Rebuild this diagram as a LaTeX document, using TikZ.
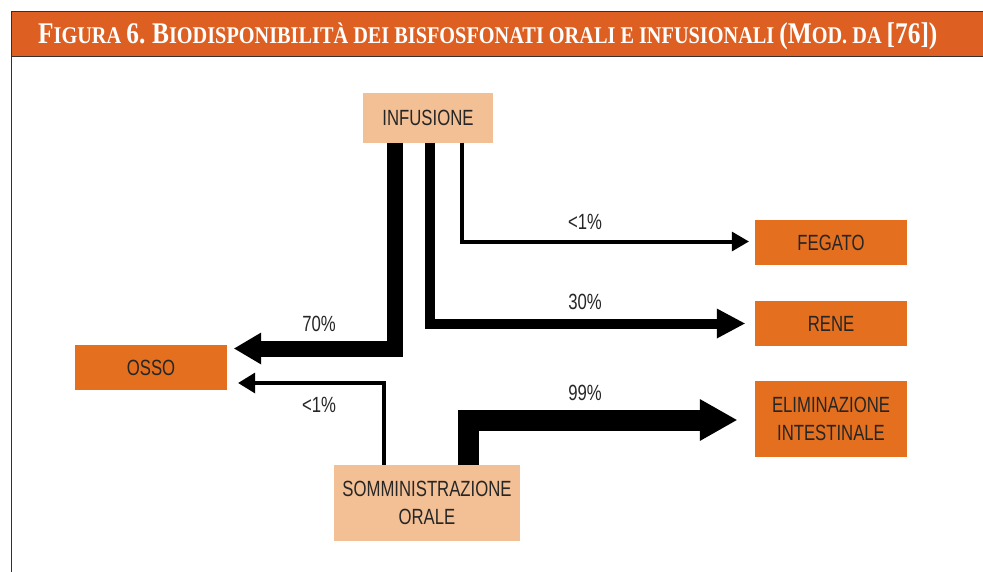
\documentclass[tikz,border=0pt]{standalone}
\usepackage{fontspec}
\setmainfont{Liberation Sans}[FakeStretch=0.76]
\newfontfamily\titlefont{Liberation Serif}[FakeStretch=0.845]
\usetikzlibrary{arrows.meta}
\definecolor{headorange}{HTML}{DD6022}
\definecolor{boxorange}{HTML}{E36F1F}
\definecolor{peach}{HTML}{F3BF94}
\definecolor{frameline}{HTML}{3A2E28}
\newcommand\capsc[2]{{\fontsize{30}{30}\selectfont #1}{\fontsize{24}{24}\selectfont #2}}

\begin{document}
\begin{tikzpicture}[x=1pt,y=-1pt,
  organ/.style={fill=boxorange,minimum width=152pt,minimum height=45pt,inner sep=0pt,
    align=center,font=\fontsize{22}{28}\selectfont,text=black!85},
  source/.style={organ,fill=peach},
  pct/.style={font=\fontsize{22}{28}\selectfont,text=black!85,inner sep=0pt},
  flow/.style n args={4}{line width=#1,-{Triangle[width=#2,length=#3,line width=0pt]},shorten >=#4}]
  \useasboundingbox (0,0) rectangle (983,571);
  \clip (0,0) rectangle (983,571);
  % cornice e testata
  \draw[frameline,line width=1.5pt,fill=headorange] (11.5,11.5) rectangle (1000,56.5);
  \draw[frameline,line width=1.5pt] (11.5,56.5) -- (11.5,590);
  \node[anchor=base west,inner sep=0pt,text=white,font=\titlefont\bfseries\fontsize{24}{24}\selectfont] (title) at (38,43)
    {\capsc{F}{IGURA} \capsc{6.}{} \capsc{B}{IODISPONIBILITÀ DEI BISFOSFONATI ORALI E INFUSIONALI} \capsc{(M}{OD. DA} \capsc{[76])}{}};
  % sorgenti
  \node[source,minimum width=130pt,minimum height=50pt] (inf) at (428,117.5) {INFUSIONE};
  \node[source,minimum width=186pt,minimum height=76pt] (somm) at (427,503) {SOMMINISTRAZIONE\\ORALE};
  % destinazioni
  \node[organ] (fegato) at (831,242.5) {FEGATO};
  \node[organ] (rene) at (831,323.5) {RENE};
  \node[organ,minimum height=76pt] (elim) at (831,419) {ELIMINAZIONE\\INTESTINALE};
  \node[organ] (osso) at (151,367.5) {OSSO};
  % flussi
  \draw[flow={16pt}{32pt}{27pt}{7pt}] ([xshift=32pt]inf.south west) |- ([yshift=19pt]osso.east);
  \draw[flow={10pt}{30pt}{28pt}{10pt}] ([xshift=2pt]inf.south) |- (rene.west);
  \draw[flow={4pt}{20pt}{17pt}{6pt}] ([xshift=34pt]inf.south) |- ([yshift=1pt]fegato.west);
  \draw[flow={21pt}{42pt}{37pt}{18pt}] ([xshift=134.5pt]somm.north west) |- ([yshift=-1pt]elim.west);
  \draw[flow={4pt}{21pt}{17pt}{11pt}] ([xshift=50pt]somm.north west) |- ([yshift=-15.5pt]osso.east);
  % percentuali
  \node[pct] (p70) at (319,323.5) {70\%};
  \node[pct] (p30) at (585,302) {30\%};
  \node[pct] (p1f) at (585,222) {<1\%};
  \node[pct] (p1o) at (319,405) {<1\%};
  \node[pct] (p99) at (585,392.5) {99\%};
\end{tikzpicture}
\end{document}
